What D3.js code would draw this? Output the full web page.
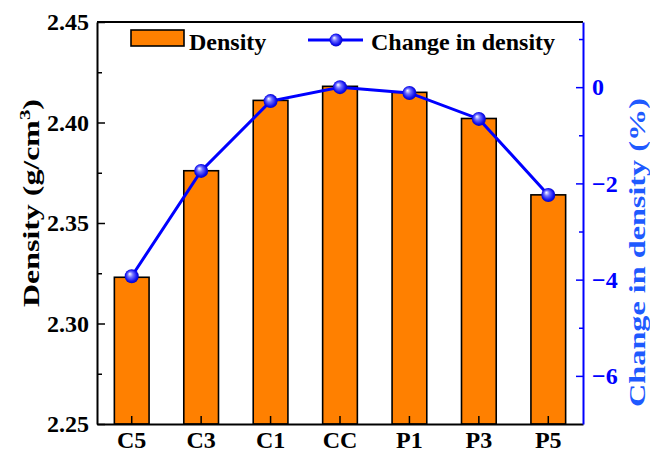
<!DOCTYPE html>
<html>
<head>
<meta charset="utf-8">
<script src="https://cdn.jsdelivr.net/npm/d3@7"></script>
<style>
  body { margin: 0; background: #fff; }
  svg { display: block; }
  text { font-family: "Liberation Serif", "Times New Roman", serif; font-weight: bold; }
</style>
</head>
<body>
<svg id="chart" width="650" height="452"></svg>
<script>
// Sample groups and measured values
const categories = ["C5", "C3", "C1", "CC", "P1", "P3", "P5"];
const density = [2.323, 2.376, 2.411, 2.418, 2.415, 2.402, 2.364];          // g/cm3
const densityChange = [-3.93, -1.74, -0.29, 0, -0.12, -0.66, -2.24];        // %

// Axis ticks
const leftTicks = [2.25, 2.30, 2.35, 2.40, 2.45];
const leftMinorTicks = [2.275, 2.325, 2.375, 2.425];
const rightTicks = [-6, -4, -2, 0];
const rightMinorTicks = [-5, -3, -1, 1];

const svg = d3.select("#chart");
const box = { left: 97, right: 583, top: 22, bottom: 424 };
const BLUE = "#0000ff";
const ORANGE = "#ff8000";

const x = d3.scaleBand().domain(categories).range([box.left, box.right])
  .paddingInner(0.5).paddingOuter(0.25);
const y = d3.scaleLinear().domain([2.25, 2.45]).range([box.bottom, box.top]);
const y2 = d3.scaleLinear().domain([-7, 1.354]).range([box.bottom, box.top]);

// Sphere-like marker fill
const defs = svg.append("defs");
const grad = defs.append("radialGradient").attr("id", "ball")
  .attr("cx", "50%").attr("cy", "50%").attr("r", "55%")
  .attr("fx", "35%").attr("fy", "32%");
grad.append("stop").attr("offset", "0%").attr("stop-color", "#ffffff");
grad.append("stop").attr("offset", "35%").attr("stop-color", "#7070ff");
grad.append("stop").attr("offset", "75%").attr("stop-color", "#1010f0");
grad.append("stop").attr("offset", "100%").attr("stop-color", "#0000b0");

// Bars
svg.append("g").selectAll("rect").data(density).join("rect")
  .attr("x", (d, i) => x(categories[i]))
  .attr("y", d => y(d))
  .attr("width", x.bandwidth())
  .attr("height", d => y(2.25) - y(d))
  .attr("fill", ORANGE)
  .attr("stroke", "#000")
  .attr("stroke-width", 1.6);

// Frame top line
svg.append("line").attr("x1", box.left).attr("x2", box.right)
  .attr("y1", box.top).attr("y2", box.top)
  .attr("stroke", "#000").attr("stroke-width", 2);

function styleAxis(g, color) {
  g.select(".domain").attr("stroke", color).attr("stroke-width", 2);
  g.selectAll(".tick line").attr("stroke", color).attr("stroke-width", 1.5);
  g.selectAll(".tick text").attr("fill", color).attr("font-size", 24)
    .attr("font-family", "Liberation Serif, Times New Roman, serif");
}

// Left axis
const gl = svg.append("g").attr("transform", `translate(${box.left},0)`)
  .call(d3.axisLeft(y).tickValues(leftTicks).tickFormat(d3.format(".2f"))
    .tickSize(-8).tickSizeOuter(0).tickPadding(8));
styleAxis(gl, "#000");
const glm = svg.append("g").attr("transform", `translate(${box.left},0)`)
  .call(d3.axisLeft(y).tickValues(leftMinorTicks).tickFormat("")
    .tickSize(-5).tickSizeOuter(0));
glm.select(".domain").remove();
glm.selectAll(".tick line").attr("stroke", "#000").attr("stroke-width", 1.5);

// Bottom axis
const gb = svg.append("g").attr("transform", `translate(0,${box.bottom})`)
  .call(d3.axisBottom(x).tickSize(-8).tickSizeOuter(0).tickPadding(7));
styleAxis(gb, "#000");

// Right axis
const gr = svg.append("g").attr("transform", `translate(${box.right},0)`)
  .call(d3.axisRight(y2).tickValues(rightTicks).tickFormat(d3.format("d"))
    .tickSize(-7).tickSizeOuter(0).tickPadding(9));
styleAxis(gr, BLUE);
const grm = svg.append("g").attr("transform", `translate(${box.right},0)`)
  .call(d3.axisRight(y2).tickValues(rightMinorTicks).tickFormat("")
    .tickSize(-4).tickSizeOuter(0));
grm.select(".domain").remove();
grm.selectAll(".tick line").attr("stroke", BLUE).attr("stroke-width", 1.5);

// Change line + markers
const cx = c => x(c) + x.bandwidth() / 2;
const line = d3.line().x((d, i) => cx(categories[i])).y(d => y2(d));
svg.append("path").datum(densityChange)
  .attr("d", line).attr("fill", "none")
  .attr("stroke", BLUE).attr("stroke-width", 3);
svg.append("g").selectAll("circle").data(densityChange).join("circle")
  .attr("cx", (d, i) => cx(categories[i]))
  .attr("cy", d => y2(d))
  .attr("r", 7)
  .attr("fill", "url(#ball)");

// Axis titles
function stretchedTitle(sel, target, tx, ty) {
  const len = sel.node().getComputedTextLength();
  sel.attr("transform", `translate(${tx},${ty}) rotate(-90) scale(${target / len},1)`);
}
const lt = svg.append("text").attr("text-anchor", "middle").attr("font-size", 23).attr("fill", "#000");
lt.append("tspan").text("Density (g/cm");
lt.append("tspan").attr("font-size", 15).attr("dy", -9).text("3");
lt.append("tspan").attr("dy", 9).text(")");
stretchedTitle(lt, 208, 39, 203);

const rt = svg.append("text").attr("text-anchor", "middle").attr("font-size", 24)
  .attr("fill", "#1e5aff").text("Change in density (%)");
stretchedTitle(rt, 309, 645, 252.5);

// Legend
const lg = svg.append("g");
lg.append("rect").attr("x", 131).attr("y", 30).attr("width", 53).attr("height", 16)
  .attr("fill", ORANGE).attr("stroke", "#000").attr("stroke-width", 1.6);
lg.append("text").attr("x", 189).attr("y", 50).attr("font-size", 24).text("Density");
lg.append("line").attr("x1", 308).attr("x2", 363).attr("y1", 40).attr("y2", 40)
  .attr("stroke", BLUE).attr("stroke-width", 3);
lg.append("circle").attr("cx", 336).attr("cy", 40).attr("r", 6.5).attr("fill", "url(#ball)");
lg.append("text").attr("x", 371).attr("y", 50).attr("font-size", 24).text("Change in density");
</script>
</body>
</html>
